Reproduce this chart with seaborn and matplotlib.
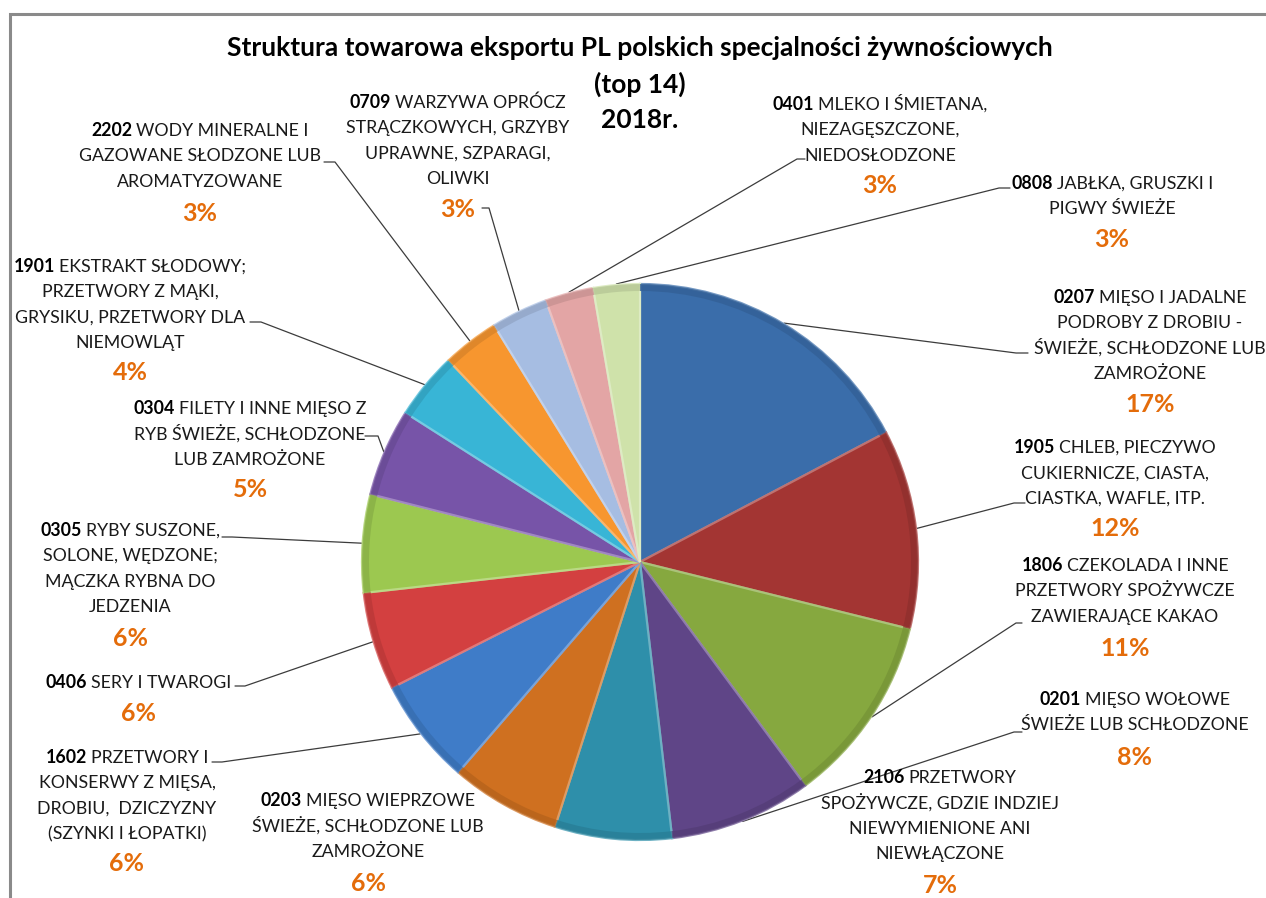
import matplotlib
matplotlib.use("Agg")
import matplotlib.pyplot as plt
import seaborn as sns
import numpy as np

# ---------------- data ----------------
codes = ["0207", "1905", "1806", "0201", "2106", "0203", "1602", "0406",
         "0305", "0304", "1901", "2202", "0709", "0401", "0808"]
names = [
    "MIĘSO I JADALNE\nPODROBY Z DROBIU -\nŚWIEŻE, SCHŁODZONE LUB\nZAMROŻONE",
    "CHLEB, PIECZYWO\nCUKIERNICZE, CIASTA,\nCIASTKA, WAFLE, ITP.",
    "CZEKOLADA I INNE\nPRZETWORY SPOŻYWCZE\nZAWIERAJĄCE KAKAO",
    "MIĘSO WOŁOWE\nŚWIEŻE LUB SCHŁODZONE",
    "PRZETWORY\nSPOŻYWCZE, GDZIE INDZIEJ\nNIEWYMIENIONE ANI\nNIEWŁĄCZONE",
    "MIĘSO WIEPRZOWE\nŚWIEŻE, SCHŁODZONE LUB\nZAMROŻONE",
    "PRZETWORY I\nKONSERWY Z MIĘSA,\nDROBIU,  DZICZYZNY\n(SZYNKI I ŁOPATKI)",
    "SERY I TWAROGI",
    "RYBY SUSZONE,\nSOLONE, WĘDZONE;\nMĄCZKA RYBNA DO\nJEDZENIA",
    "FILETY I INNE MIĘSO Z\nRYB ŚWIEŻE, SCHŁODZONE\nLUB ZAMROŻONE",
    "EKSTRAKT SŁODOWY;\nPRZETWORY Z MĄKI,\nGRYSIKU, PRZETWORY DLA\nNIEMOWLĄT",
    "WODY MINERALNE I\nGAZOWANE SŁODZONE LUB\nAROMATYZOWANE",
    "WARZYWA OPRÓCZ\nSTRĄCZKOWYCH, GRZYBY\nUPRAWNE, SZPARAGI,\nOLIWKI",
    "MLEKO I ŚMIETANA,\nNIEZAGĘSZCZONE,\nNIEDOSŁODZONE",
    "JABŁKA, GRUSZKI I\nPIGWY ŚWIEŻE",
]
shares = [17.3, 11.6, 11.0, 8.3, 6.8, 6.4, 6.2, 5.7, 5.7, 5.1, 3.9, 3.3, 3.3, 2.8, 2.7]
colors = ["#3A6DAA", "#A33533", "#86A83F", "#5F4587", "#2E8FAA", "#CF7020",
          "#3F7CC8", "#D34040", "#9CC850", "#7754A8", "#38B5D6", "#F7962F",
          "#A6BDE2", "#E3A5A5", "#CFE2AA"]
title_lines = ["Struktura towarowa eksportu PL polskich specjalności żywnościowych",
               "(top 14)", "2018r."]

# ---------------- layout ----------------
W, H = 1266, 898
CX, CY, R = 640, 562, 278
# label block: center x, first line center y, pct center y, elbow (text end x, elbow x, y) or None
layout = {
    "0207": (1150, 297, 403, (1028, 1016, 353)),
    "1905": (1115, 447, 527, (1025, 1014, 503)),
    "1806": (1125, 565, 647, (1022, 1016, 623)),
    "0201": (1135, 699, 756, (1022, 1014, 732)),
    "2106": (940, 777, 884, None),
    "0203": (368, 800, 882, None),
    "1602": (127, 757, 862, (212, 222, 762)),
    "0406": (138, 682, 712, (235, 245, 686)),
    "0305": (130, 530, 637, (222, 232, 537)),
    "0304": (250, 408, 488, (365, 378, 436)),
    "1901": (130, 266, 371, (250, 261, 322)),
    "2202": (200, 130, 212, (324, 335, 162)),
    "0709": (458, 102, 208, (482, 489, 208)),
    "0401": (880, 104, 184, (805, 797, 159)),
    "0808": (1112, 183, 238, (1010, 999, 188)),
}
LS = 25.4  # line spacing px

sns.set_theme(style="white")
plt.rcParams["font.family"] = ["Lato", "DejaVu Sans"]

fig = plt.figure(figsize=(W / 100, H / 100), dpi=100)
fig.patch.set_facecolor("white")
ax = fig.add_axes([0, 0, 1, 1])


def Y(y):
    return H - y


wedges, _ = ax.pie(shares, colors=colors, startangle=90, counterclock=False,
                   center=(CX, Y(CY)), radius=R,
                   wedgeprops=dict(linewidth=1.0, edgecolor="white"))


def lighten(c, f):
    rgb = np.array(matplotlib.colors.to_rgb(c))
    return tuple(rgb + (1 - rgb) * f)


def darken(c, f):
    rgb = np.array(matplotlib.colors.to_rgb(c))
    return tuple(rgb * (1 - f))


for w, c in zip(wedges, colors):
    w.set_edgecolor(lighten(c, 0.3))
    w.set_linewidth(1.6)
    # rim shading
    ring = matplotlib.patches.Wedge((CX, Y(CY)), R, w.theta1, w.theta2, width=7,
                                    facecolor=darken(c, 0.12), edgecolor="none",
                                    alpha=0.8)
    ax.add_patch(ring)

ax.set_xlim(0, W)
ax.set_ylim(0, H)
ax.axis("off")

# frame lines
ax.plot([10, 10, W], [Y(H), Y(14), Y(14)], color="#8a8a8a", lw=2.2,
        solid_joinstyle="miter")

# title
for i, (t, yy) in enumerate(zip(title_lines, [48, 85, 120])):
    ax.text(640, Y(yy) - 8, t, ha="center", va="baseline", fontsize=19,
            fontweight="bold", color="black")

fig.canvas.draw()
renderer = fig.canvas.get_renderer()

FS = 12.8
PFS = 18
total = sum(shares)
for i, code in enumerate(codes):
    cx, y0, py, elbow = layout[code]
    lines = names[i].split("\n")
    # first line: bold code + normal text
    t1 = ax.text(0, Y(y0) - 6, code, fontsize=FS, fontweight="bold", ha="left",
                 va="baseline", color="black")
    t2 = ax.text(0, Y(y0) - 6, lines[0], fontsize=FS, ha="left", va="baseline",
                 color="#1a1a1a")
    w1 = t1.get_window_extent(renderer).width
    w2 = t2.get_window_extent(renderer).width
    gap = 4
    x0 = cx - (w1 + gap + w2) / 2
    t1.set_x(x0)
    t2.set_x(x0 + w1 + gap)
    for k, ln in enumerate(lines[1:], start=1):
        ax.text(cx, Y(y0 + k * LS) - 6, ln, fontsize=FS, ha="center",
                va="baseline", color="#1a1a1a")
    pct = shares[i] / total * 100
    ax.text(cx, Y(py) - 9, f"{pct:.0f}%", fontsize=PFS, fontweight="bold",
            ha="center", va="baseline", color="#E46C0A")
    if elbow is not None:
        xa, xb, ye = elbow
        w = wedges[i]
        th = np.deg2rad((w.theta1 + w.theta2) / 2)
        px = CX + (R + 1) * np.cos(th)
        pyy = Y(CY) + (R + 1) * np.sin(th)
        ax.plot([xa, xb, px], [Y(ye), Y(ye), pyy], color="#3c3c3c", lw=0.9,
                zorder=0.5)

fig.savefig("out.png", dpi=100, facecolor="white")
